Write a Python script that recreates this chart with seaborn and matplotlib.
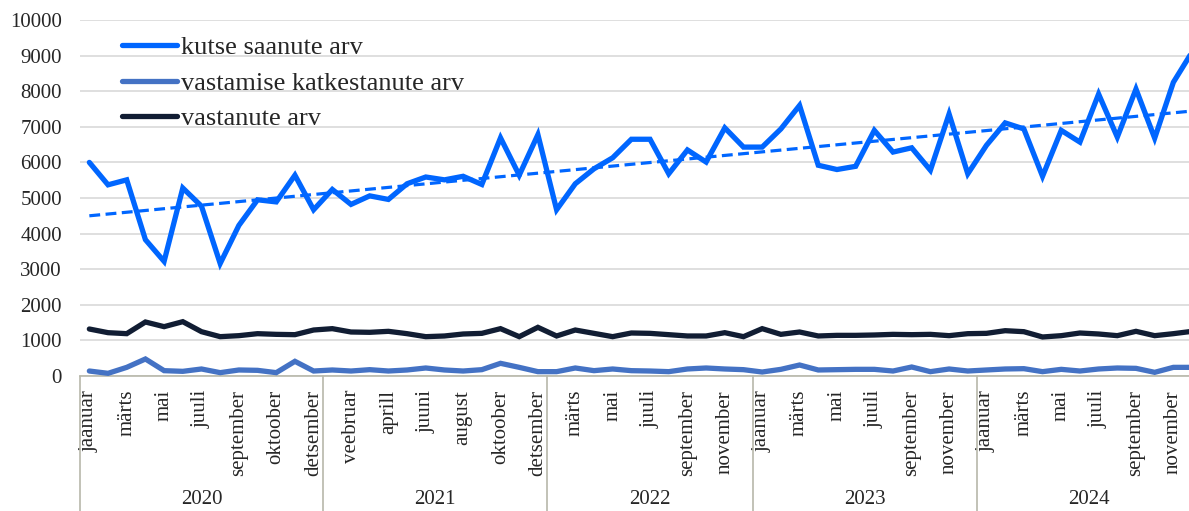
import numpy as np
import pandas as pd
import matplotlib
matplotlib.use("Agg")
import matplotlib.pyplot as plt
from matplotlib.lines import Line2D
import matplotlib.transforms as mtransforms
import seaborn as sns

# ---------------- data ----------------
years = ["2020", "2021", "2022", "2023", "2024"]
months_2020 = ["jaanuar", "veebruar", "märts", "aprill", "mai", "juuni", "juuli", "august",
               "september", "oktoober", "oktoober", "november", "detsember"]
months_2021 = ["jaanuar", "veebruar", "märts", "aprill", "mai", "juuni", "juuli", "august",
               "september", "oktoober", "november", "detsember"]
months_2022 = ["jaanuar", "märts", "aprill", "mai", "juuni", "juuli", "august",
               "september", "oktoober", "november", "detsember"]
months_2023 = ["jaanuar", "veebruar", "märts", "aprill", "mai", "juuni", "juuli", "august",
               "september", "oktoober", "november", "detsember"]
months_2024 = ["jaanuar", "veebruar", "märts", "aprill", "mai", "juuni", "juuli", "august",
               "september", "oktoober", "november", "detsember"]
months_by_year = [months_2020, months_2021, months_2022, months_2023, months_2024]

kutse = [6000, 5370, 5510, 3830, 3220, 5280, 4770, 3160, 4230, 4950, 4890, 5640, 4670,
         5240, 4820, 5060, 4960, 5400, 5590, 5510, 5610, 5380, 6690, 5640, 6780,
         4670, 5400, 5820, 6130, 6650, 6650, 5680, 6350, 6010, 6970, 6430,
         6430, 6940, 7600, 5920, 5800, 5890, 6900, 6290, 6410, 5780, 7360, 5680,
         6480, 7110, 6940, 5610, 6900, 6570, 7920, 6710, 8060, 6680, 8250, 9100]
katkestanud = [140, 75, 243, 478, 150, 131, 197, 94, 169, 159, 94, 412, 140,
               169, 140, 178, 140, 169, 225, 169, 140, 178, 356, 243, 122,
               122, 225, 150, 197, 150, 140, 122, 197, 225, 197, 178,
               112, 187, 309, 169, 178, 187, 187, 140, 253, 122, 197, 140,
               169, 197, 206, 122, 187, 140, 197, 225, 215, 103, 243, 243]
vastanud = [1320, 1217, 1189, 1517, 1386, 1526, 1245, 1105, 1133, 1189, 1170, 1161, 1292,
            1330, 1236, 1227, 1255, 1189, 1105, 1124, 1180, 1198, 1330, 1105, 1367,
            1124, 1292, 1198, 1105, 1208, 1198, 1161, 1124, 1124, 1217, 1105,
            1330, 1170, 1236, 1124, 1142, 1142, 1152, 1170, 1161, 1170, 1133, 1189,
            1198, 1273, 1245, 1096, 1133, 1208, 1180, 1133, 1255, 1133, 1189, 1255]

series_names = ["kutse saanute arv", "vastamise katkestanute arv", "vastanute arv"]
colors = ["#0066FF", "#4472C4", "#111D33"]

# ---------------- build frame ----------------
month_labels = [m for ms in months_by_year for m in ms]
year_counts = [len(ms) for ms in months_by_year]
n = len(month_labels)
idx = np.arange(n)
df = pd.DataFrame({"i": idx, series_names[0]: kutse,
                   series_names[1]: katkestanud, series_names[2]: vastanud})

# ---------------- style ----------------
sns.set_style("white")
plt.rcParams["font.family"] = ["Liberation Serif", "DejaVu Serif"]

W, H = 1189, 511
fig = plt.figure(figsize=(W / 100, H / 100), dpi=100)
ax_left, ax_top, ax_bottom = 80, 20, 376
cat_w = 18.69
ax = fig.add_axes([ax_left / W, 1 - ax_bottom / H, n * cat_w / W, (ax_bottom - ax_top) / H])

lw = 3.8
handles = []
for name, col, z in zip(series_names, colors, [4, 3, 3]):
    sns.lineplot(data=df, x="i", y=name, ax=ax, color=col, linewidth=lw,
                 solid_capstyle="round", solid_joinstyle="miter", zorder=z)
    handles.append(Line2D([], [], color=col, linewidth=lw, solid_capstyle="round", label=name))

sns.regplot(data=df, x="i", y=series_names[0], ax=ax, scatter=False, ci=None, truncate=True,
            line_kws=dict(color=colors[0], linewidth=2.3, linestyle=(0, (3.4, 1.7)), zorder=5))

ax.set_xlim(-0.5, n - 0.5)
ax.set_ylim(0, 10000)
ax.set_yticks(np.arange(0, 10001, 1000))
ax.set_yticklabels([str(v) for v in range(0, 10001, 1000)], fontsize=15)
ax.set_xticks(idx[::2])
ax.set_xticklabels(month_labels[::2], rotation=90, fontsize=15, va="top")
ax.tick_params(axis="y", length=0, pad=13)
ax.tick_params(axis="x", length=0, pad=10)
ax.set_xlabel("")
ax.set_ylabel("")
ax.grid(axis="y", color="#D9D9D9", linewidth=1.2)
ax.set_axisbelow(True)
for s in ["left", "right", "top"]:
    ax.spines[s].set_visible(False)
axis_col = "#B8B8AA"
ax.spines["bottom"].set_color(axis_col)
ax.spines["bottom"].set_linewidth(1.2)

# year group separators and labels
trans = mtransforms.blended_transform_factory(ax.transData, ax.transAxes)
bottom_ext = -(H - ax_bottom) / (ax_bottom - ax_top)
edges = np.concatenate([[0], np.cumsum(year_counts)]) - 0.5
for e in edges:
    ax.plot([e, e], [0, bottom_ext], transform=trans, color=axis_col, linewidth=1.2, clip_on=False)
ytxt = -(500 - ax_bottom) / (ax_bottom - ax_top)
for y, a, b in zip(years, edges[:-1], edges[1:]):
    ax.text((a + b) / 2, ytxt, y, transform=trans, ha="center", va="center", fontsize=15)

leg = ax.legend(handles=handles, loc="upper left", frameon=False, fontsize=19,
                bbox_to_anchor=(122 / W, 1 - 36 / H), bbox_transform=fig.transFigure,
                borderpad=0, borderaxespad=0, handlelength=2.1, handletextpad=0.12,
                labelspacing=0.45)

fig.savefig("out.png", dpi=100)
